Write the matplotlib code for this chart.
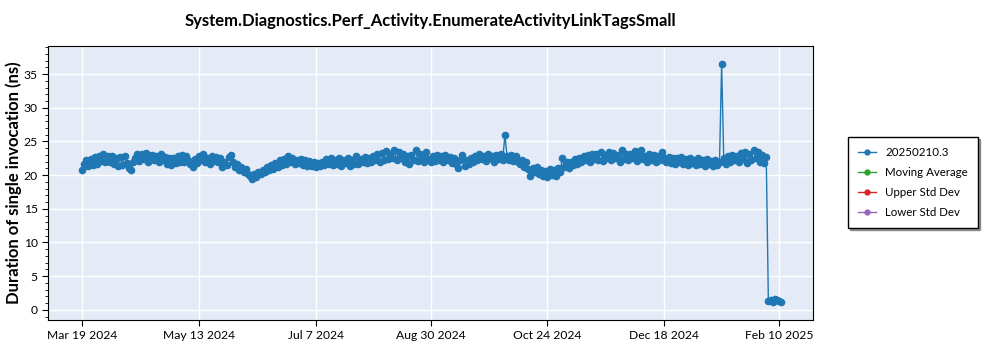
import datetime as dt
import matplotlib
matplotlib.use("Agg")
import matplotlib.pyplot as plt
import matplotlib.dates as mdates
from matplotlib.ticker import MultipleLocator

plt.rcParams['font.family'] = ['Lato', 'DejaVu Sans']

# daily medians, Mar 19 2024 .. Feb 11 2025
mar = [20.8, 21.6, 22.2, 21.3, 22.4, 21.5, 22.7, 21.6, 22.9, 22.1, 23.1, 21.9, 22.8]
apr = [22.0, 22.9, 21.6, 22.5, 21.3, 22.7, 21.5, 22.8, 21.8, 21.0,
       20.8, 22.0, 22.6, 23.2, 22.1, 23.1, 22.4, 23.3, 22.0, 22.9,
       23.0, 22.2, 22.8, 21.9, 23.1, 22.3, 22.7, 21.7, 22.6, 21.5]
may = [22.5, 21.8, 22.9, 22.0, 23.0, 21.9, 22.8, 22.2, 21.6, 21.2,
       22.4, 21.8, 22.9, 22.3, 23.1, 22.0, 22.6, 21.7, 22.8, 22.1,
       22.7, 21.9, 22.5, 21.2, 22.0, 21.5, 22.7, 23.0, 21.9, 21.2, 21.6]
jun = [20.7, 21.2, 20.4, 20.9, 20.2, 19.8, 19.4, 20.1, 19.7, 20.5,
       20.1, 20.8, 20.4, 21.2, 20.7, 21.5, 20.9, 21.8, 21.2, 22.3,
       21.5, 22.4, 21.7, 22.8, 21.9, 22.5, 21.6, 22.3, 21.8, 22.4]
jul = [21.5, 22.3, 21.4, 22.1, 21.3, 21.9, 21.2, 21.8, 21.4, 22.0,
       21.5, 22.4, 21.6, 22.6, 21.5, 22.3, 21.7, 22.5, 21.4, 22.2,
       21.8, 22.6, 21.3, 22.2, 21.6, 22.8, 21.7, 22.4, 21.9, 22.7, 21.8]
aug = [22.6, 21.9, 22.9, 22.2, 23.1, 22.0, 23.3, 22.3, 23.6, 22.4,
       23.2, 22.6, 23.8, 22.2, 23.4, 22.5, 23.1, 22.0, 22.9, 21.7,
       23.0, 22.3, 23.7, 22.1, 23.2, 22.6, 22.0, 23.5, 22.4, 21.9, 22.8]
sep = [22.1, 23.0, 22.3, 22.8, 21.9, 23.0, 22.2, 22.7, 21.8, 22.6,
       21.6, 21.1, 22.3, 23.0, 21.4, 22.2, 21.7, 22.6, 21.9, 22.8,
       22.2, 23.1, 22.4, 22.9, 22.1, 23.2, 22.5, 22.8, 22.0, 23.0]
oct_ = [22.4, 23.1, 22.2, 26.0, 22.9, 22.3, 23.0, 22.1, 22.8, 22.0,
        21.6, 22.3, 21.2, 21.9, 20.9, 19.8, 21.0, 20.4, 21.2, 20.1,
        20.8, 19.9, 20.6, 19.7, 20.9, 20.0, 20.7, 19.9, 21.0, 20.5, 22.5]
nov = [21.2, 21.9, 21.0, 22.0, 21.5, 22.4, 21.7, 22.6, 21.9, 22.8,
       22.2, 23.0, 22.0, 23.2, 22.4, 23.1, 22.3, 23.4, 22.1, 23.0,
       22.6, 23.5, 22.2, 23.3, 22.5, 23.0, 22.0, 23.8, 22.4, 23.1]
dec = [22.3, 23.2, 22.5, 23.6, 22.1, 23.0, 23.8, 22.4, 22.9, 22.0,
       23.1, 22.3, 23.0, 21.9, 22.8, 22.2, 23.4, 22.5, 22.0, 22.7,
       21.8, 22.6, 21.6, 22.5, 21.9, 22.7, 21.7, 22.4, 21.5, 22.6, 21.8]
jan = [22.3, 21.5, 22.5, 21.7, 22.2, 21.4, 22.4, 21.6, 22.1, 21.4,
       22.3, 21.5, 21.9, 36.5, 22.5, 21.7, 22.8, 21.9, 23.0, 22.2,
       22.9, 22.0, 23.3, 22.4, 23.5, 21.8, 23.1, 22.3, 23.7, 22.5, 23.4]
feb = [22.0, 23.0, 21.8, 22.7, 1.3, 1.5, 1.2, 1.6, 1.4, 1.3, 1.2]

values = mar + apr + may + jun + jul + aug + sep + oct_ + nov + dec + jan + feb
start = dt.date(2024, 3, 19)
dates = [start + dt.timedelta(days=i) for i in range(len(values))]

tick_dates = [dt.date(2024, 3, 19), dt.date(2024, 5, 13), dt.date(2024, 7, 7),
              dt.date(2024, 8, 30), dt.date(2024, 10, 24), dt.date(2024, 12, 18),
              dt.date(2025, 2, 10)]

series = ['20250210.3', 'Moving Average', 'Upper Std Dev', 'Lower Std Dev']
colors = ['#1f77b4', '#2ca02c', '#d62728', '#9467bd']

fig = plt.figure(figsize=(10, 3.5), dpi=100)
ax = fig.add_axes([0.048, 0.086, 0.765, 0.783])
ax.set_facecolor('#e5ebf6')

ax.plot(dates, values, '-o', color=colors[0], lw=1, ms=4.5, label=series[0])
# the statistics series carry no points here, they only show up in the legend
for name, c in zip(series[1:], colors[1:]):
    ax.plot([], [], '-o', color=c, lw=1, ms=3, label=name)

ax.set_xlim(dt.date(2024, 3, 3), dt.date(2025, 2, 26))
ax.set_ylim(-1.5, 39.2)
ax.set_xticks(tick_dates)
ax.xaxis.set_major_formatter(mdates.DateFormatter('%b %-d %Y'))
ax.yaxis.set_major_locator(MultipleLocator(5))
ax.yaxis.set_minor_locator(MultipleLocator(1))
ax.tick_params(labelsize=8.7, length=4, color='black')
ax.tick_params(which='minor', length=2)
ax.grid(True, color='white', lw=1)
ax.set_axisbelow(True)
for s in ax.spines.values():
    s.set_color('black')

ax.set_ylabel('Duration of single invocation (ns)', fontsize=12, fontweight='bold',
              labelpad=1)
ax.set_title('System.Diagnostics.Perf_Activity.EnumerateActivityLinkTagsSmall',
             fontsize=12, fontweight='bold', pad=14)

leg = fig.legend(loc='upper left', bbox_to_anchor=(0.848, 0.609), fontsize=8.3,
                 borderaxespad=0, fancybox=False,
                 shadow={'ox': 1.5, 'oy': -1.5, 'color': '#444444'},
                 edgecolor='black', framealpha=1,
                 handlelength=1.6, borderpad=0.85, labelspacing=0.8)
for h in leg.legend_handles:
    h.set_markersize(3.5)

fig.savefig('out.png', dpi=100)
